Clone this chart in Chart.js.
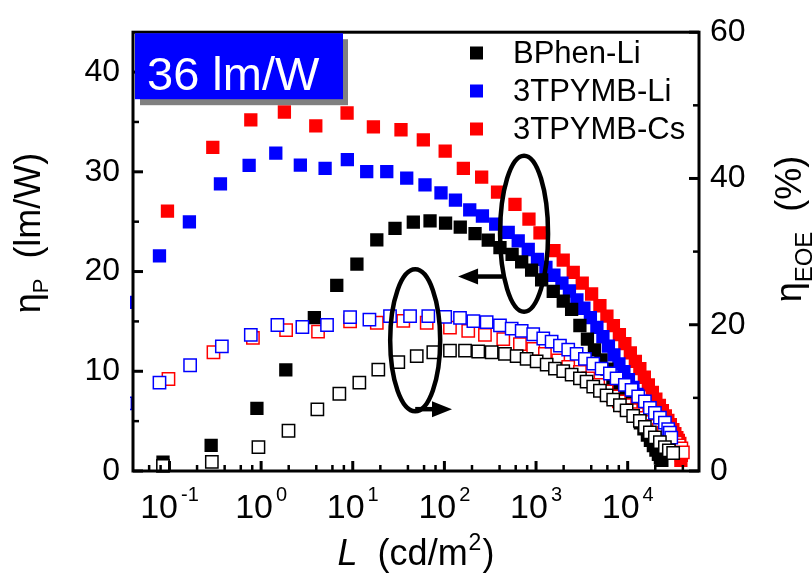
<!DOCTYPE html>
<html>
<head>
<meta charset="utf-8">
<script src="https://cdn.jsdelivr.net/npm/chart.js@4.4.0/dist/chart.umd.min.js"></script>
<style>
  body { margin: 0; background: #fff; }
  #wrap { width: 812px; height: 573px; position: relative; }
</style>
</head>
<body>
<div id="wrap"><canvas id="effChart"></canvas></div>
<script>
const seriesNames = ['BPhen-Li', '3TPYMB-Li', '3TPYMB-Cs'];
const seriesColors = ['#000000', '#0000ff', '#ff0000'];

// BPhen-Li: power efficiency (lm/W) and EQE (%) vs luminance (cd/m2)
const bphenPeL = [0.085, 0.285, 0.90, 1.86, 3.81, 6.69, 11.1, 18.3, 28.9, 45.8, 69.7, 103, 149, 216, 301, 404, 548, 697, 895, 1151, 1541, 1982, 2445, 3010, 3637, 4337, 5102, 5933, 6896, 7921, 8982, 10050, 11250, 12440, 13760, 15030, 16410, 17700, 19070, 20320, 21630, 22750, 23600];
const bphenPe = [0.9, 2.56, 6.28, 10.13, 15.38, 18.61, 20.74, 23.18, 24.33, 24.95, 25.08, 24.85, 24.46, 23.8, 23.15, 22.39, 21.72, 20.98, 20.15, 19.16, 18.02, 17.03, 16.2, 14.59, 13.22, 12.14, 11.13, 10.21, 9.29, 8.45, 7.69, 7.0, 6.22, 5.52, 4.83, 4.22, 3.61, 3.08, 2.54, 2.10, 1.66, 1.30, 1.08];
const bphenEqeL = [0.085, 0.290, 0.935, 1.99, 4.11, 7.14, 11.8, 19.0, 31.4, 49.9, 75.7, 115, 168, 234, 328, 458, 614, 789, 1015, 1306, 1608, 1980, 2445, 3012, 3562, 4205, 4977, 5888, 6950, 8222, 9726, 11480, 13580, 15400, 17470, 19810, 22460, 25470, 28130, 31350];
const bphenEqe = [0.71, 1.25, 3.26, 5.50, 8.42, 10.56, 12.08, 13.87, 14.90, 15.70, 16.24, 16.47, 16.47, 16.34, 16.24, 16.01, 15.70, 15.34, 14.99, 14.54, 14.0, 13.65, 13.19, 12.66, 12.21, 11.54, 10.97, 10.34, 9.76, 8.99, 8.28, 7.52, 6.85, 6.04, 5.28, 4.61, 3.94, 3.27, 2.82, 2.46];

// 3TPYMB-Li
const liPeL = [0.0341, 0.0778, 0.165, 0.360, 0.740, 1.446, 2.68, 4.99, 8.73, 14.2, 23.5, 38.8, 61.4, 91.8, 132, 189, 260, 363, 497, 639, 822, 1036, 1282, 1567, 1916, 2313, 2792, 3327, 3918, 4613, 5366, 6163, 7076, 8024, 9095, 10190, 11410, 12600, 13930, 15210, 16610, 17910, 19310, 20550, 21620, 22170, 21620, 20810];
const liPe = [16.9, 21.57, 24.98, 28.80, 30.64, 31.88, 30.67, 30.35, 31.23, 30.01, 30.01, 29.36, 28.70, 27.88, 27.17, 26.18, 25.57, 24.75, 23.93, 23.08, 22.21, 21.22, 20.41, 19.63, 18.84, 18.05, 17.16, 16.32, 15.38, 14.40, 13.46, 12.52, 11.64, 10.75, 9.96, 9.17, 8.38, 7.69, 7.00, 6.31, 5.62, 5.03, 4.44, 3.85, 3.35, 2.96, 2.56, 2.27];
const liEqeL = [0.0329, 0.0778, 0.168, 0.373, 0.772, 1.506, 2.82, 5.24, 9.35, 15.2, 25.5, 42.2, 66.7, 102, 148, 207, 289, 404, 542, 697, 931, 1199, 1479, 1823, 2244, 2771, 3415, 4205, 5192, 6397, 7566, 9315, 11020, 13020, 15410, 17470, 19810, 22460, 25470, 27670, 28840, 29900];
const liEqe = [9.26, 12.08, 14.46, 17.05, 18.62, 19.96, 19.69, 19.96, 21.03, 20.71, 21.17, 21.17, 21.17, 21.07, 20.94, 20.50, 20.36, 19.91, 19.46, 19.15, 18.70, 18.12, 17.68, 17.14, 16.60, 16.01, 15.34, 14.67, 14.0, 13.33, 12.66, 11.77, 11.10, 10.20, 9.53, 8.63, 7.96, 7.29, 6.62, 5.73, 5.23, 4.56];

// 3TPYMB-Cs
const csPeL = [0.0951, 0.297, 0.772, 1.795, 3.95, 8.67, 16.8, 33.6, 58.9, 102, 161, 255, 380, 589, 837, 1104, 1568, 1980, 2546, 3192, 4040, 4977, 5933, 6982, 8117, 9315, 10690, 12130, 13580, 15200, 16810, 18590, 20300, 22180, 23900, 25770, 27430, 29220, 31110, 32720, 34420, 35720, 37080, 38050, 38530, 38050];
const csPe = [26.06, 32.45, 35.2, 36.0, 34.6, 35.9, 34.5, 34.22, 33.2, 32.08, 30.35, 29.46, 27.97, 26.73, 25.25, 23.87, 22.09, 21.14, 19.92, 18.84, 17.75, 16.57, 15.53, 14.57, 13.68, 12.77, 11.84, 11.0, 10.26, 9.40, 8.64, 7.87, 7.20, 6.57, 6.05, 5.52, 5.08, 4.64, 4.14, 3.75, 3.35, 3.06, 2.76, 2.17, 1.58, 1.08];
const csEqeL = [0.0975, 0.302, 0.814, 1.874, 4.18, 9.35, 18.3, 35.6, 64.1, 115, 182, 277, 439, 667, 931, 1250, 1746, 2244, 3011, 3709, 4766, 5889, 6896, 8020, 9320, 10840, 12600, 14650, 16820, 19310, 21890, 24820, 27800, 30730, 33560, 36170, 38520, 40000];
const csEqe = [12.58, 16.24, 18.2, 19.26, 19.06, 20.47, 20.27, 20.54, 20.27, 19.60, 19.15, 18.62, 18.03, 17.36, 16.68, 16.01, 15.13, 14.23, 13.56, 12.66, 11.77, 10.87, 10.20, 9.53, 8.99, 8.32, 7.79, 7.25, 6.71, 6.17, 5.64, 5.23, 4.70, 4.30, 3.89, 3.49, 3.09, 2.55];

// axis ticks
const xMajor = [0.1, 1, 10, 100, 1000, 10000];
const xExponents = ['-1', '0', '1', '2', '3', '4'];
const leftMajor = [0, 10, 20, 30, 40];
const leftMinor = [5, 15, 25, 35];
const rightMajor = [0, 20, 40, 60];
const rightMinor = [10, 30, 50];
const peakLabel = '36 lm/W';

const FONT = "'Liberation Sans', Arial, sans-serif";

function pts(xs, ys) {
  return xs.map(function(x, i) { return { x: x, y: ys[i] }; });
}

function filled(label, xs, ys, color) {
  return {
    label: label, data: pts(xs, ys), yAxisID: 'y',
    pointStyle: 'rect', pointRadius: 9.4, pointHoverRadius: 9.4,
    pointBackgroundColor: color, pointBorderColor: color, pointBorderWidth: 0,
    showLine: false, clip: { left: 3, top: 10, right: 10, bottom: 10 }
  };
}

function open(label, xs, ys, color) {
  return {
    label: label, data: pts(xs, ys), yAxisID: 'y2',
    pointStyle: 'rect', pointRadius: 8.7, pointHoverRadius: 8.7,
    pointBackgroundColor: '#ffffff', pointBorderColor: color, pointBorderWidth: 1.5,
    showLine: false, clip: { left: 3, top: 10, right: 10, bottom: 10 }
  };
}

// minor log ticks at 2,4,6,8 per decade
const xMinor = [0.06, 0.08];
xMajor.forEach(function(d) {
  [2, 4, 6, 8].forEach(function(m) { if (d * m < 60000) xMinor.push(d * m); });
});

// text made of runs (subscripts, superscripts), centred on cx
function drawRuns(ctx, runs, cx, baseline) {
  let total = 0;
  runs.forEach(function(r) {
    ctx.font = (r.italic ? 'italic ' : '') + r.size + 'px ' + FONT;
    r.w = ctx.measureText(r.text).width;
    total += r.w + (r.gap || 0);
  });
  let x = cx - total / 2;
  ctx.textAlign = 'left';
  ctx.textBaseline = 'alphabetic';
  runs.forEach(function(r) {
    ctx.font = (r.italic ? 'italic ' : '') + r.size + 'px ' + FONT;
    x += (r.gap || 0);
    ctx.fillText(r.text, x, baseline + (r.dy || 0));
    x += r.w;
  });
}

function ellipseWithArrow(ctx, cx, cy, rx, ry, ax, ay, tipX) {
  ctx.beginPath();
  ctx.ellipse(cx, cy, rx, ry, 0, 0, Math.PI * 2);
  ctx.stroke();
  const dir = tipX < ax ? -1 : 1;
  ctx.beginPath();
  ctx.moveTo(ax, ay);
  ctx.lineTo(tipX - dir * 14, ay);
  ctx.stroke();
  ctx.beginPath();
  ctx.moveTo(tipX, ay);
  ctx.lineTo(tipX - dir * 20, ay - 8);
  ctx.lineTo(tipX - dir * 20, ay + 8);
  ctx.closePath();
  ctx.fill();
}

const decorPlugin = {
  id: 'decor',
  afterDatasetsDraw: function(chart) {
    const ctx = chart.ctx, a = chart.chartArea, s = chart.scales;
    ctx.save();
    ctx.strokeStyle = '#000';
    ctx.lineWidth = 3;
    ctx.lineCap = 'butt';
    ctx.strokeRect(a.left, a.top, a.right - a.left, a.bottom - a.top);
    function mark(x1, y1, x2, y2) { ctx.beginPath(); ctx.moveTo(x1, y1); ctx.lineTo(x2, y2); ctx.stroke(); }
    xMajor.forEach(function(v) { const x = s.x.getPixelForValue(v); mark(x, a.bottom, x, a.bottom - 10); });
    ctx.lineWidth = 2.5;
    xMinor.forEach(function(v) { const x = s.x.getPixelForValue(v); mark(x, a.bottom, x, a.bottom - 6); });
    ctx.lineWidth = 3;
    leftMajor.forEach(function(v) { const y = s.y.getPixelForValue(v); mark(a.left, y, a.left + 10, y); });
    rightMajor.forEach(function(v) { const y = s.y2.getPixelForValue(v); mark(a.right, y, a.right - 10, y); });
    ctx.lineWidth = 2.5;
    leftMinor.forEach(function(v) { const y = s.y.getPixelForValue(v); mark(a.left, y, a.left + 6, y); });
    rightMinor.forEach(function(v) { const y = s.y2.getPixelForValue(v); mark(a.right, y, a.right - 6, y); });
    ctx.restore();
  },
  afterDraw: function(chart) {
    const ctx = chart.ctx, a = chart.chartArea, s = chart.scales;
    ctx.save();
    ctx.fillStyle = '#000';

    // decade labels 10^n
    xMajor.forEach(function(v, i) {
      const x = s.x.getPixelForValue(v);
      drawRuns(ctx, [
        { text: '10', size: 34 },
        { text: xExponents[i], size: 20, dy: -17, gap: 3 }
      ], x, a.bottom + 47);
    });

    // axis titles
    drawRuns(ctx, [
      { text: 'L', size: 36, italic: true },
      { text: '  (cd/m', size: 36 },
      { text: '2', size: 23, dy: -15, gap: 1 },
      { text: ')', size: 36, gap: 1 }
    ], (a.left + a.right) / 2, 565);

    ctx.save();
    ctx.translate(40, 233);
    ctx.rotate(-Math.PI / 2);
    drawRuns(ctx, [
      { text: '\u03b7', size: 36 },
      { text: 'P', size: 22, dy: 8 },
      { text: '  (lm/W)', size: 36 }
    ], 0, 0);
    ctx.restore();

    ctx.save();
    ctx.translate(801, 229);
    ctx.rotate(-Math.PI / 2);
    drawRuns(ctx, [
      { text: '\u03b7', size: 36 },
      { text: 'EQE', size: 24, dy: 11 },
      { text: '  (%)', size: 36 }
    ], 0, 0);
    ctx.restore();

    // legend
    ctx.font = '31px ' + FONT;
    ctx.textAlign = 'left';
    ctx.textBaseline = 'middle';
    seriesNames.forEach(function(name, i) {
      const y = 53 + i * 38;
      ctx.fillStyle = seriesColors[i];
      ctx.fillRect(470, y - 6.5, 13, 13);
      ctx.fillStyle = '#000';
      ctx.fillText(name, 513, y + 1);
    });

    // peak efficiency badge
    ctx.fillStyle = '#808080';
    ctx.fillRect(a.left + 7, a.top + 7, 208, 66);
    ctx.fillStyle = '#0000ff';
    ctx.fillRect(a.left + 2, a.top + 1, 208, 66);
    ctx.fillStyle = '#ffffff';
    ctx.font = '47px ' + FONT;
    ctx.textBaseline = 'alphabetic';
    ctx.fillText(peakLabel, a.left + 14, a.top + 58);

    // ellipses marking which axis each group belongs to
    ctx.strokeStyle = '#000';
    ctx.fillStyle = '#000';
    ctx.lineWidth = 4.5;
    const e1x = s.x.getPixelForValue(740), e1y = s.y.getPixelForValue(23.8);
    ellipseWithArrow(ctx, e1x, e1y, 24, 78, e1x - 22, s.y.getPixelForValue(19.5), s.x.getPixelForValue(141));
    const e2x = s.x.getPixelForValue(48), e2y = s.y.getPixelForValue(13.1);
    ellipseWithArrow(ctx, e2x, e2y, 25, 71, e2x, s.y.getPixelForValue(6.2), s.x.getPixelForValue(121));
    ctx.restore();
  }
};

const ctx = document.getElementById('effChart').getContext('2d');
new Chart(ctx, {
  type: 'scatter',
  data: {
    datasets: [
      open(seriesNames[0] + ' EQE', bphenEqeL, bphenEqe, seriesColors[0]),
      open(seriesNames[1] + ' EQE', liEqeL, liEqe, seriesColors[1]),
      open(seriesNames[2] + ' EQE', csEqeL, csEqe, seriesColors[2]),
      filled(seriesNames[0], bphenPeL, bphenPe, seriesColors[0]),
      filled(seriesNames[1], liPeL, liPe, seriesColors[1]),
      filled(seriesNames[2], csPeL, csPe, seriesColors[2])
    ]
  },
  options: {
    responsive: true,
    maintainAspectRatio: false,
    animation: false,
    layout: { padding: { top: 24, left: 0, right: 0, bottom: 0 } },
    plugins: { legend: { display: false }, tooltip: { enabled: false } },
    scales: {
      x: {
        type: 'logarithmic', min: 0.04, max: 60000,
        ticks: { display: false },
        grid: { display: false, drawTicks: false },
        border: { display: false },
        afterFit: function(scale) { scale.height = 102; }
      },
      y: {
        position: 'left', min: 0, max: 44,
        ticks: { stepSize: 10, includeBounds: false, color: '#000', padding: 13, font: { family: FONT, size: 32 } },
        grid: { display: false, drawTicks: false },
        border: { display: false },
        afterFit: function(scale) { scale.width = 133; }
      },
      y2: {
        position: 'right', min: 0, max: 60,
        ticks: { stepSize: 20, includeBounds: false, color: '#000', padding: 11, font: { family: FONT, size: 32 } },
        grid: { display: false, drawTicks: false },
        border: { display: false },
        afterFit: function(scale) { scale.width = 113; }
      }
    }
  },
  plugins: [decorPlugin]
});
</script>
</body>
</html>
